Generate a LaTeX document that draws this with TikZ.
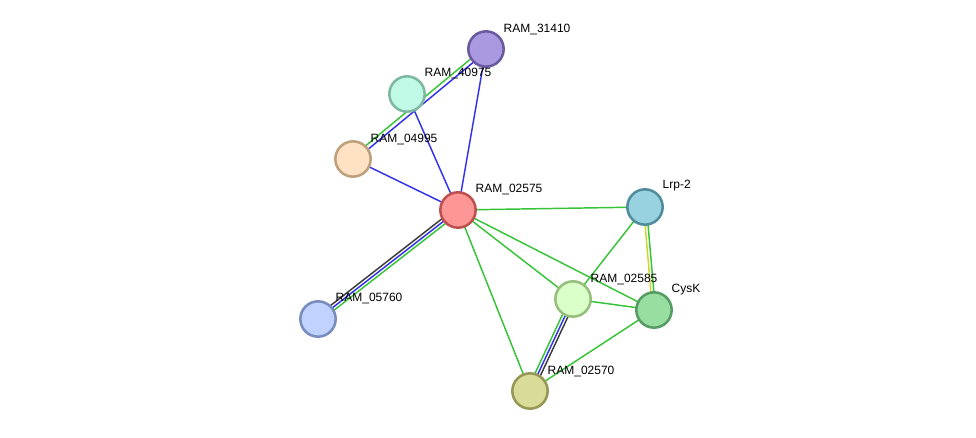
\documentclass[tikz,border=0pt]{standalone}
\usepackage{fontspec}
\setmainfont{Liberation Sans}
\usetikzlibrary{calc}
\definecolor{edgeGreen}{RGB}{55,195,55}
\definecolor{edgeBlue}{RGB}{50,50,235}
\definecolor{edgeGray}{RGB}{60,60,60}
\definecolor{edgeYellow}{RGB}{200,215,40}
\pgfdeclarelayer{bg}
\pgfsetlayers{bg,main}

% one coloured strand of an edge, shifted sideways by #3
\newcommand{\strand}[4]{%
  \draw[#4] ($(#1)!#3!90:(#2)$) -- ($(#2)!#3!-90:(#1)$);}

\begin{document}
\begin{tikzpicture}[x=0.75pt, y=-0.75pt,
    prot/.style={circle, minimum size=26.5pt, inner sep=0pt, line width=1.9pt},
    lbl/.style={font=\fontsize{9}{10}\selectfont, anchor=west},
    ln/.style={line width=1.1pt}
  ]
  \useasboundingbox (0,0) rectangle (976,437);

  % Proteins
  \node[prot, draw={rgb,255:red,105;green,90;blue,160}, fill={rgb,255:red,170;green,152;blue,224}] (p31410) at (486,49) {};
  \node[prot, draw={rgb,255:red,125;green,185;blue,160}, fill={rgb,255:red,192;green,250;blue,230}] (p40975) at (407,94) {};
  \node[prot, draw={rgb,255:red,190;green,160;blue,125}, fill={rgb,255:red,255;green,225;blue,195}] (p04995) at (353,159) {};
  \node[prot, draw={rgb,255:red,190;green,80;blue,80}, fill={rgb,255:red,255;green,150;blue,150}] (p02575) at (458,210) {};
  \node[prot, draw={rgb,255:red,80;green,140;blue,155}, fill={rgb,255:red,152;green,210;blue,224}] (pLrp) at (645,207) {};
  \node[prot, draw={rgb,255:red,150;green,190;blue,125}, fill={rgb,255:red,218;green,255;blue,200}] (p02585) at (573,299) {};
  \node[prot, draw={rgb,255:red,85;green,155;blue,100}, fill={rgb,255:red,152;green,222;blue,160}] (pCysK) at (654,310) {};
  \node[prot, draw={rgb,255:red,120;green,140;blue,190}, fill={rgb,255:red,192;green,210;blue,255}] (p05760) at (318,319) {};
  \node[prot, draw={rgb,255:red,150;green,150;blue,85}, fill={rgb,255:red,216;green,220;blue,152}] (p02570) at (530,391) {};

  % Labels
  \node[lbl] (t31410) at (499,29) {RAM\_31410};
  \node[lbl] (t40975) at (420,73) {RAM\_40975};
  \node[lbl] (t04995) at (366,139) {RAM\_04995};
  \node[lbl] (t02575) at (471,189) {RAM\_02575};
  \node[lbl] (tLrp) at (658,186) {Lrp-2};
  \node[lbl] (t02585) at (586,279) {RAM\_02585};
  \node[lbl] (tCysK) at (667,290) {CysK};
  \node[lbl] (t05760) at (331,298) {RAM\_05760};
  \node[lbl] (t02570) at (543,371) {RAM\_02570};

  % Edges
  \begin{pgfonlayer}{bg}
    \strand{p31410}{p04995}{-1.6pt}{ln, edgeGreen}
    \strand{p31410}{p04995}{1.6pt}{ln, edgeBlue}
    \strand{p40975}{p02575}{0pt}{ln, edgeBlue}
    \strand{p31410}{p02575}{0pt}{ln, edgeBlue}
    \strand{p04995}{p02575}{0pt}{ln, edgeBlue}
    \strand{p02575}{p05760}{-2.2pt}{ln, edgeGray}
    \strand{p02575}{p05760}{0pt}{ln, edgeBlue}
    \strand{p02575}{p05760}{2.2pt}{ln, edgeGreen}
    \strand{p02575}{pLrp}{0pt}{ln, edgeGreen}
    \strand{p02575}{p02585}{0pt}{ln, edgeGreen}
    \strand{p02575}{pCysK}{0pt}{ln, edgeGreen}
    \strand{p02575}{p02570}{0pt}{ln, edgeGreen}
    \strand{pLrp}{p02585}{0pt}{ln, edgeGreen}
    \strand{pLrp}{pCysK}{-1.1pt}{ln, edgeYellow}
    \strand{pLrp}{pCysK}{1.1pt}{ln, edgeGreen}
    \strand{p02585}{pCysK}{0pt}{ln, edgeGreen}
    \strand{p02585}{p02570}{-2.2pt}{ln, edgeGreen}
    \strand{p02585}{p02570}{0pt}{ln, edgeBlue}
    \strand{p02585}{p02570}{2.2pt}{ln, edgeGray}
    \strand{pCysK}{p02570}{0pt}{ln, edgeGreen}
  \end{pgfonlayer}
\end{tikzpicture}
\end{document}
